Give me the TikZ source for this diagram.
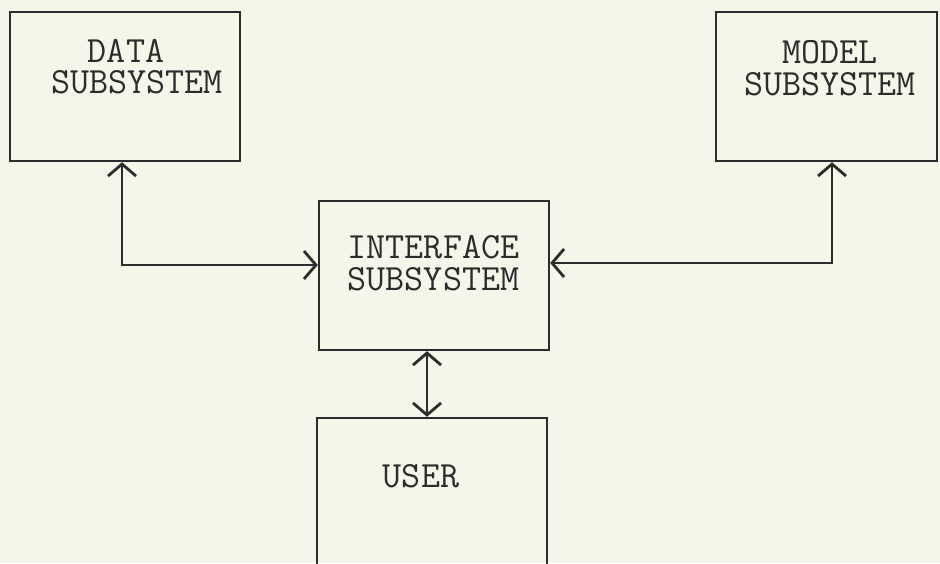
\documentclass[tikz,border=0pt]{standalone}
\usetikzlibrary{arrows.meta}
\definecolor{paper}{HTML}{F6F5EA}
\definecolor{ink}{HTML}{2C2C2C}
\begin{document}
\begin{tikzpicture}[x=1pt,y=-1pt,
  box/.style={draw=ink,line width=2.4pt,inner sep=0pt,minimum width=230pt,minimum height=149pt},
  lbl/.style={font=\fontsize{37}{31.5}\selectfont\ttfamily,text=ink,anchor=base,inner sep=0pt,align=center},
  conn/.style={draw=ink,line width=2.8pt,<->,>={Straight Barb[length=12pt,width=28pt]}}]
\fill[paper] (0,0) rectangle (940,563);
\useasboundingbox (0,0) rectangle (940,563);
% boxes
\node[box] (data) at (125,86.5) {};
\node[box,minimum width=221pt] (model) at (826.5,86.5) {};
\node[box] (iface) at (434,275.5) {};
\node[box,minimum height=150pt] (user) at (432,493) {};
% labels
\node[lbl] (dataL) at (137,93.5) {DATA\hspace*{22pt}\\SUBSYSTEM};
\node[lbl] (modelL) at (830,95) {MODEL\\SUBSYSTEM};
\node[lbl] (ifaceL) at (433.5,290) {INTERFACE\\SUBSYSTEM};
\node[lbl] (userL) at (421,487) {USER};
% connectors
\draw[conn] ([xshift=-3pt]data.south) |- ([yshift=10.5pt]iface.west);
\draw[conn] ([xshift=5.5pt]model.south) |- ([yshift=12.5pt]iface.east);
\draw[conn] ([xshift=-7pt]iface.south) -- ([xshift=-5pt]user.north);
\end{tikzpicture}
\end{document}
